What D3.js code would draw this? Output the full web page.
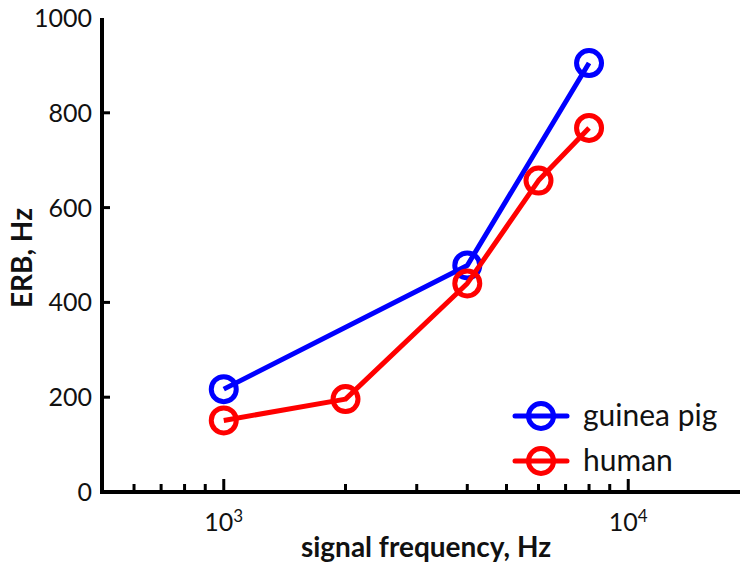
<!DOCTYPE html>
<html>
<head>
<meta charset="utf-8">
<script src="https://cdn.jsdelivr.net/npm/d3@7"></script>
<style>
  body { margin: 0; background: #fff; }
  svg text { font-family: Lato, "Open Sans", sans-serif; fill: #111; }
</style>
</head>
<body>
<svg id="chart" width="740" height="564"></svg>
<script>
// chart data
const guineaFreq = [1000, 4000, 8000];
const guineaErb = [217, 478, 905];
const humanFreq = [1000, 2000, 4000, 6000, 8000];
const humanErb = [151, 196, 440, 657, 768];
const yTicks = [0, 200, 400, 600, 800, 1000];
const xMajor = [1000, 10000];
const xMinor = [600, 700, 800, 900, 2000, 3000, 4000, 5000, 6000, 7000, 8000, 9000];

const series = [
  { name: 'guinea pig', color: '#0000ff', xs: guineaFreq, ys: guineaErb },
  { name: 'human', color: '#ff0000', xs: humanFreq, ys: humanErb }
];

const svg = d3.select('#chart');

const x = d3.scaleLog().domain([500, 20000]).range([102, 750]);
const y = d3.scaleLinear().domain([0, 1000]).range([492, 18]);

// axes
const axisG = svg.append('g');
axisG.append('line')
  .attr('x1', x(500)).attr('x2', 740)
  .attr('y1', y(0)).attr('y2', y(0))
  .attr('stroke', '#000').attr('stroke-width', 4);
axisG.append('line')
  .attr('x1', x(500)).attr('x2', x(500))
  .attr('y1', y(0) + 2).attr('y2', y(1000))
  .attr('stroke', '#000').attr('stroke-width', 4);

// x ticks (drawn inward)
axisG.selectAll('.minor')
  .data(xMinor)
  .join('line')
  .attr('x1', d => x(d)).attr('x2', d => x(d))
  .attr('y1', y(0)).attr('y2', y(0) - 8)
  .attr('stroke', '#000').attr('stroke-width', 3);
axisG.selectAll('.major')
  .data(xMajor)
  .join('line')
  .attr('x1', d => x(d)).attr('x2', d => x(d))
  .attr('y1', y(0)).attr('y2', y(0) - 13)
  .attr('stroke', '#000').attr('stroke-width', 3);

const xLabels = axisG.selectAll('.xl')
  .data(xMajor)
  .join('text')
  .attr('x', d => x(d))
  .attr('y', y(0) + 39)
  .attr('text-anchor', 'middle')
  .style('font-size', '25px');
xLabels.append('tspan').text('10');
xLabels.append('tspan')
  .attr('dy', '-0.55em')
  .style('font-size', '17px')
  .text(d => Math.round(Math.log10(d)));

// y ticks
axisG.selectAll('.yt')
  .data(yTicks.slice(1, -1))
  .join('line')
  .attr('x1', x(500)).attr('x2', x(500) + 8)
  .attr('y1', d => y(d)).attr('y2', d => y(d))
  .attr('stroke', '#000').attr('stroke-width', 3);
axisG.selectAll('.yl')
  .data(yTicks)
  .join('text')
  .attr('x', 92)
  .attr('y', d => y(d) + 9)
  .attr('text-anchor', 'end')
  .style('font-size', '25px')
  .text(d => d);

// axis titles
svg.append('text')
  .attr('x', 426).attr('y', 557)
  .attr('text-anchor', 'middle')
  .style('font-size', '28px').style('font-weight', 'bold')
  .text('signal frequency, Hz');
svg.append('text')
  .attr('transform', 'translate(32,258) rotate(-90)')
  .attr('text-anchor', 'middle')
  .style('font-size', '28px').style('font-weight', 'bold')
  .text('ERB, Hz');

// series
const line = d3.line().x(d => x(d[0])).y(d => y(d[1]));
series.forEach(s => {
  const pts = s.xs.map((v, i) => [v, s.ys[i]]);
  const g = svg.append('g');
  g.selectAll('circle')
    .data(pts)
    .join('circle')
    .attr('cx', d => x(d[0]))
    .attr('cy', d => y(d[1]))
    .attr('r', 12.5)
    .attr('fill', 'none')
    .attr('stroke', s.color)
    .attr('stroke-width', 5);
  g.append('path')
    .attr('d', line(pts))
    .attr('fill', 'none')
    .attr('stroke', s.color)
    .attr('stroke-width', 5)
    .attr('stroke-linejoin', 'round');
});

// legend
const legend = svg.append('g').attr('transform', 'translate(515,416)');
series.forEach((s, i) => {
  const row = legend.append('g').attr('transform', `translate(0,${i * 45})`);
  row.append('line')
    .attr('x1', 0).attr('x2', 52)
    .attr('stroke', s.color).attr('stroke-width', 5)
    .attr('stroke-linecap', 'round');
  row.append('circle')
    .attr('cx', 26).attr('r', 12.5)
    .attr('fill', 'none')
    .attr('stroke', s.color).attr('stroke-width', 5);
  row.append('text')
    .attr('x', 68).attr('y', 10)
    .style('font-size', '30px')
    .text(s.name);
});
</script>
</body>
</html>
